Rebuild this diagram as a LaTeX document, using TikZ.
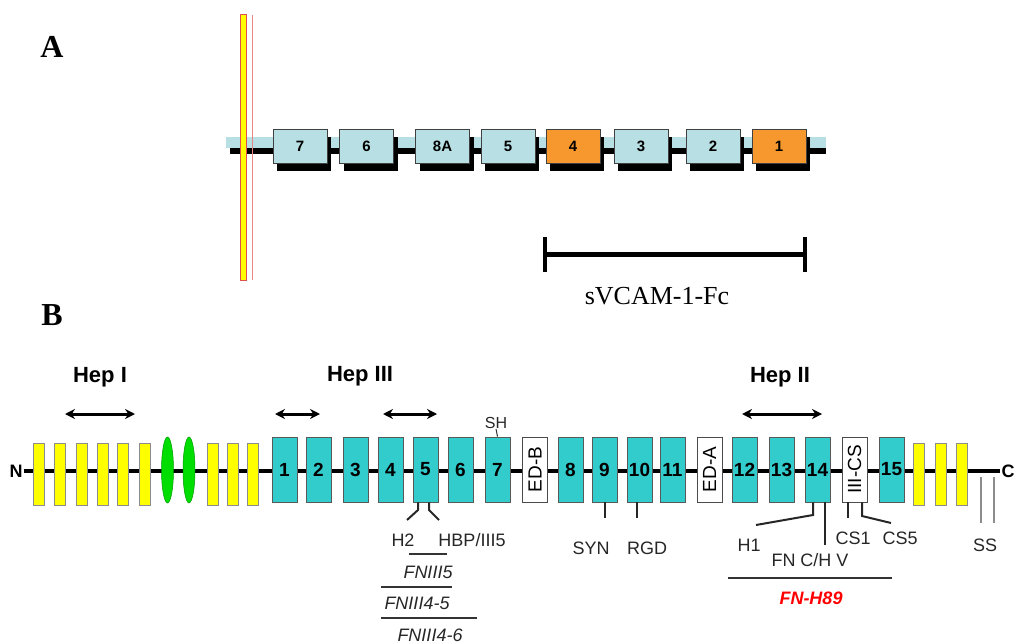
\documentclass[tikz,border=0pt]{standalone}
\usepackage{fontspec}
\setmainfont{Liberation Sans}
\newfontfamily\serifface{Liberation Serif}
\usetikzlibrary{shadows,arrows.meta,calc,shapes.geometric}
\definecolor{lblue}{HTML}{B8DFE3}
\definecolor{orng}{HTML}{F7982F}
\definecolor{tealc}{HTML}{33CCCC}
\definecolor{yel}{HTML}{FFFF00}
\definecolor{grn}{HTML}{00DD00}
\definecolor{memred}{HTML}{E05050}
\newcommand{\fs}[1]{\fontsize{#1}{#1}\selectfont}
\begin{document}
\begin{tikzpicture}[x=1pt,y=-1pt,
 abox/.style={draw=black!75, line width=0.8pt, fill=lblue, minimum width=54pt, minimum height=34pt, inner sep=0pt, font=\fs{15}\bfseries, drop shadow={shadow xshift=4pt, shadow yshift=-8pt, fill=black, opacity=1}},
 obox/.style={abox, fill=orng},
 tbox/.style={draw=black!65, line width=0.8pt, fill=tealc, minimum width=25pt, minimum height=65pt, inner sep=0pt, font=\fs{19}\bfseries},
 ybar/.style={draw=black!45, line width=0.6pt, fill=yel, minimum width=11pt, minimum height=62pt, inner sep=0pt},
 gell/.style={ellipse, draw=green!60!black, line width=0.5pt, fill=grn, minimum width=12pt, minimum height=66pt, inner sep=0pt},
 wbox/.style={draw=black!70, line width=0.8pt, fill=white, minimum width=65pt, minimum height=25pt, inner sep=0pt, rotate=90, font=\fs{19}},
 hep/.style={font=\fs{22}\bfseries},
 lab/.style={font=\fs{18}, text=black!85, inner sep=0pt},
 ilab/.style={font=\fs{18}\itshape, text=black!85, inner sep=0pt},
 dbl/.style={{Stealth[length=10pt,width=10pt]}-{Stealth[length=10pt,width=10pt]}, line width=3pt},
 tick/.style={line width=2pt, draw=black!85},
 span/.style={line width=1.6pt, draw=black!80},
 panel/.style={font=\serifface\fs{32}\bfseries}
]
\useasboundingbox (0,0) rectangle (1016,644);

% ---------------- Panel A ----------------
\node[panel] (pA) at (52,47) {A};
\coordinate (aL) at (230,151.5);
\coordinate (aR) at (826,151.5);
\fill[lblue] (226,137) rectangle (826,148);
\draw[line width=6pt] (aL) -- (aR);
\node[draw=memred, fill=yel, line width=1pt, minimum width=6pt, minimum height=265pt, inner sep=0pt] (mem) at (243.5,147.5) {};
\coordinate (mt) at (252,15);
\coordinate (mb) at (252,280);
\draw[memred!70, line width=0.8pt] (mt) -- (mb);

\node[abox] (a7) at (300,146) {7};
\node[abox] (a6) at (366.5,146) {6};
\node[abox] (a8A) at (442.5,146) {8A};
\node[abox] (a5) at (508,146) {5};
\node[obox] (a4) at (573,146) {4};
\node[abox] (a3) at (641,146) {3};
\node[abox] (a2) at (713,146) {2};
\node[obox] (a1) at (779,146) {1};

\coordinate (sL) at (545,254);
\coordinate (sR) at (805,254);
\coordinate (sLt) at (545,237);
\coordinate (sLb) at (545,272);
\coordinate (sRt) at (805,237);
\coordinate (sRb) at (805,272);
\draw[line width=5pt] (sL) -- (sR);
\draw[line width=4pt] (sLt) -- (sLb);
\draw[line width=4pt] (sRt) -- (sRb);
\node[font=\serifface\fs{26}] (sv) at (657,296) {sVCAM-1-Fc};

% ---------------- Panel B ----------------
\node[panel] (pB) at (52,315) {B};
\node[font=\fs{18}\bfseries, inner sep=1pt] (nN) at (16,471) {N};
\node[font=\fs{18}\bfseries, inner sep=1pt] (nC) at (1008,471) {C};
\draw[line width=4pt] (nN.east) -- (nC.west);

\node[ybar] (y1) at (38.5,474) {};
\node[ybar] (y2) at (60,474) {};
\node[ybar] (y3) at (81.5,474) {};
\node[ybar] (y4) at (102.5,474) {};
\node[ybar] (y5) at (123,474) {};
\node[ybar] (y6) at (144.5,474) {};
\node[gell] (g1) at (167.5,470) {};
\node[gell] (g2) at (189,470) {};
\node[ybar] (y7) at (212.5,474) {};
\node[ybar] (y8) at (232.5,474) {};
\node[ybar] (y9) at (252.5,474) {};

\node[tbox] (b1) at (284.5,469.5) {1};
\node[tbox] (b2) at (318.5,469.5) {2};
\node[tbox] (b3) at (355.5,469.5) {\raisebox{-3pt}{3}};
\node[tbox] (b4) at (390.5,469.5) {4};
\node[tbox] (b5) at (425.5,469.5) {5};
\node[tbox] (b6) at (460.5,469.5) {6};
\node[tbox] (b7) at (497.5,469.5) {7};
\node[wbox] (edb) at (535,469.5) {ED-B};
\node[tbox] (b8) at (570.5,469.5) {8};
\node[tbox] (b9) at (604.5,469.5) {9};
\node[tbox] (b10) at (639.5,469.5) {10};
\node[tbox] (b11) at (672.5,469.5) {11};
\node[wbox] (eda) at (709.5,469.5) {ED-A};
\node[tbox] (b12) at (744.5,469.5) {12};
\node[tbox] (b13) at (781.5,469.5) {13};
\node[tbox] (b14) at (817.5,469.5) {14};
\node[wbox] (iiics) at (854.5,469.5) {III-CS};
\node[tbox] (b15) at (891.5,469.5) {15};
\node[ybar] (y10) at (918.5,474) {};
\node[ybar] (y11) at (941,474) {};
\node[ybar] (y12) at (962,474) {};

% heparin binding labels
\node[hep] (hepI) at (100,377) {Hep I};
\node[hep] (hepIII) at (360,376) {Hep III};
\node[hep] (hepII) at (780,377) {Hep II};
\coordinate (h1l) at (65,414);
\coordinate (h1r) at (135,414);
\coordinate (h3al) at (275,414);
\coordinate (h3ar) at (320,414);
\coordinate (h3bl) at (383,414);
\coordinate (h3br) at (437,414);
\coordinate (h2l) at (742,414);
\coordinate (h2r) at (822,414);
\draw[dbl] (h1l) -- (h1r);
\draw[dbl] (h3al) -- (h3ar);
\draw[dbl] (h3bl) -- (h3br);
\draw[dbl] (h2l) -- (h2r);

% SH
\node[font=\fs{16}, text=black!85, inner sep=0pt] (sh) at (496,423) {SH};
\draw[line width=1pt, black!80] (b7.north) -- (sh.south);

% box 5 ticks and labels
\coordinate (t5a) at (418,510);
\coordinate (t5ae) at (407,520);
\coordinate (t5b) at (429,510);
\coordinate (t5be) at (439,520);
\draw[tick] ($(b5.south)+(-7.5,0)$) -- (t5a) -- (t5ae);
\draw[tick] ($(b5.south)+(3.5,0)$) -- (t5b) -- (t5be);
\node[lab] (h2) at (403,540) {H2};
\node[lab] (hbp) at (472,540) {HBP/III5};
\coordinate (s1l) at (409,554);
\coordinate (s1r) at (447,554);
\draw[span] (s1l) -- (s1r);
\node[ilab] (f5) at (428,572) {FNIII5};
\coordinate (s2l) at (381,587);
\coordinate (s2r) at (452,587);
\draw[span] (s2l) -- (s2r);
\node[ilab] (f45) at (417,603) {FNIII4-5};
\coordinate (s3l) at (381,618);
\coordinate (s3r) at (477,618);
\draw[span] (s3l) -- (s3r);
\node[ilab] (f46) at (430,635) {FNIII4-6};

% SYN / RGD
\node[lab] (syn) at (591,548) {SYN};
\node[lab] (rgd) at (647,548) {RGD};
\coordinate (t9) at (605,518);
\coordinate (t10) at (637,518);
\draw[tick] ($(b9.south)+(0.5,0)$) -- (t9);
\draw[tick] ($(b10.south)+(-2.5,0)$) -- (t10);

% box 14 and III-CS ticks
\coordinate (t14a) at (813,515);
\coordinate (t14ae) at (756,525);
\coordinate (t14b) at (825,545);
\draw[tick] ($(b14.south)+(-4.5,0)$) -- (t14a) -- (t14ae);
\draw[tick] ($(b14.south)+(7.5,0)$) -- (t14b);
\coordinate (tcsa) at (848,518);
\coordinate (tcsb) at (862,516);
\coordinate (tcsbe) at (891,523);
\draw[tick] ($(iiics.west)+(-6.5,0)$) -- (tcsa);
\draw[tick] ($(iiics.west)+(7.5,0)$) -- (tcsb) -- (tcsbe);
\node[lab] (h1) at (749,545) {H1};
\node[lab] (fnch) at (810,560) {FN C/H V};
\node[lab] (cs1) at (853,538) {CS1};
\node[lab] (cs5) at (900,538) {CS5};
\coordinate (s4l) at (728,578);
\coordinate (s4r) at (892,578);
\draw[span] (s4l) -- (s4r);
\node[font=\fs{18}\bfseries\itshape, text=red, inner sep=0pt] (fnh) at (811,598) {FN-H89};

% SS
\coordinate (ssa) at (981,477);
\coordinate (ssae) at (981,523);
\coordinate (ssb) at (994,477);
\coordinate (ssbe) at (994,523);
\draw[line width=1.2pt, black!45] (ssa) -- (ssae);
\draw[line width=1.2pt, black!45] (ssb) -- (ssbe);
\node[lab] (ss) at (985,545) {SS};
\end{tikzpicture}
\end{document}
